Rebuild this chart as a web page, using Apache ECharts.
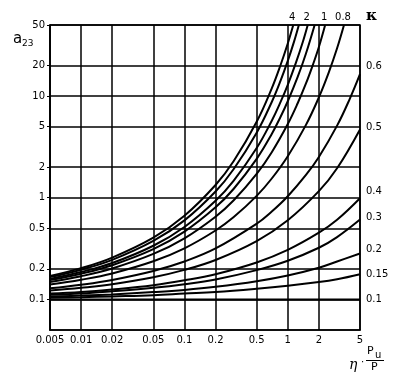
<!DOCTYPE html>
<html><head><meta charset="utf-8">
<script src="https://cdn.jsdelivr.net/npm/echarts@6/dist/echarts.min.js"></script>
<style>html,body{margin:0;padding:0;background:#fff}#c{width:402px;height:381px}</style>
</head><body><div id="c"></div>
<script>
// tick labels
const xTicks = [0.005, 0.01, 0.02, 0.05, 0.1, 0.2, 0.5, 1, 2, 5];
const yTicks = [0.1, 0.2, 0.5, 1, 2, 5, 10, 20, 50];

// curves: a23 versus eta*Pu/P for each kappa
const etaK010 = [0.005, 5];
const aK010   = [0.1, 0.1];
const etaK015 = [0.005, 0.01, 0.02, 0.05, 0.1, 0.2, 0.5, 1, 2, 3, 5];
const aK015   = [0.104, 0.105, 0.107, 0.110, 0.114, 0.118, 0.127, 0.136, 0.148, 0.158, 0.177];
const etaK020 = [0.005, 0.01, 0.02, 0.05, 0.1, 0.2, 0.5, 1, 2, 3, 5];
const aK020   = [0.107, 0.109, 0.112, 0.118, 0.124, 0.133, 0.151, 0.172, 0.205, 0.236, 0.283];
const etaK030 = [0.005, 0.01, 0.02, 0.05, 0.1, 0.2, 0.5, 1, 2, 3, 5];
const aK030   = [0.111, 0.114, 0.120, 0.130, 0.141, 0.157, 0.194, 0.240, 0.322, 0.41, 0.61];
const etaK040 = [0.005, 0.01, 0.02, 0.05, 0.1, 0.2, 0.5, 1, 2, 3, 5];
const aK040   = [0.114, 0.118, 0.125, 0.138, 0.154, 0.177, 0.231, 0.307, 0.453, 0.608, 0.99];
const etaK050 = [0.005, 0.01, 0.02, 0.05, 0.1, 0.2, 0.5, 1, 2, 3, 5];
const aK050   = [0.122, 0.130, 0.141, 0.165, 0.195, 0.244, 0.374, 0.60, 1.16, 1.95, 4.7];
const etaK060 = [0.005, 0.01, 0.02, 0.05, 0.1, 0.2, 0.5, 0.7, 1, 1.5, 2, 3, 4, 5];
const aK060   = [0.1285, 0.1395, 0.1555, 0.1905, 0.236, 0.317, 0.555, 0.731, 1.034, 1.674, 2.52, 5.12, 9.5, 16.4];
const etaK080 = [0.005, 0.01, 0.02, 0.05, 0.1, 0.2, 0.3, 0.5, 0.7, 1, 1.5, 2, 2.5, 3, 3.5];
const aK080   = [0.140, 0.156, 0.180, 0.237, 0.318, 0.476, 0.645, 1.043, 1.546, 2.56, 5.21, 9.71, 17.2, 29.5, 50];
const etaK100 = [0.005, 0.01, 0.02, 0.05, 0.1, 0.2, 0.3, 0.5, 0.7, 1, 1.25, 1.5, 1.75, 2, 2.3];
const aK100   = [0.1485, 0.169, 0.2015, 0.280, 0.399, 0.651, 0.945, 1.715, 2.805, 5.31, 8.55, 13.3, 20.3, 30.4, 50];
const etaK150 = [0.005, 0.01, 0.02, 0.05, 0.1, 0.2, 0.3, 0.5, 0.7, 0.85, 1, 1.25, 1.5, 1.82];
const aK150   = [0.155, 0.179, 0.217, 0.312, 0.464, 0.804, 1.226, 2.413, 4.24, 6.22, 8.89, 15.5, 26.2, 50];
const etaK200 = [0.005, 0.01, 0.02, 0.05, 0.1, 0.2, 0.3, 0.5, 0.7, 0.85, 1, 1.2, 1.4, 1.56];
const aK200   = [0.159, 0.186, 0.228, 0.337, 0.516, 0.934, 1.474, 3.081, 5.72, 8.71, 12.9, 21.3, 34.2, 50];
const etaK300 = [0.005, 0.01, 0.02, 0.05, 0.1, 0.2, 0.3, 0.5, 0.7, 0.85, 1, 1.15, 1.28];
const aK300   = [0.166, 0.196, 0.245, 0.376, 0.599, 1.152, 1.918, 4.36, 8.75, 14.1, 22.2, 34.3, 50];
const etaK400 = [0.005, 0.01, 0.02, 0.05, 0.1, 0.2, 0.3, 0.5, 0.7, 0.85, 1, 1.13];
const aK400   = [0.170, 0.203, 0.258, 0.405, 0.665, 1.334, 2.296, 5.59, 11.9, 20.1, 32.9, 50];

const FONT = 'DejaVu Sans';
function pairs(xs, ys) { return xs.map((x, i) => [x, ys[i]]); }
function rightLabel(txt, dy) {
  return {show: true, formatter: txt, distance: 6, align: 'left', verticalAlign: 'middle',
          offset: [0, dy], fontSize: 10, fontFamily: FONT, color: '#000'};
}
function topLabel(txt, dx) {
  return {show: true, formatter: txt, distance: 0, align: 'center', verticalAlign: 'bottom',
          offset: [dx, -3], fontSize: 10, fontFamily: FONT, color: '#000'};
}
const curves = [
  {n: '0.1', d: pairs(etaK010, aK010), l: rightLabel('0.1', 0)},
  {n: '0.15', d: pairs(etaK015, aK015), l: rightLabel('0.15', 0)},
  {n: '0.2', d: pairs(etaK020, aK020), l: rightLabel('0.2', -4)},
  {n: '0.3', d: pairs(etaK030, aK030), l: rightLabel('0.3', -2)},
  {n: '0.4', d: pairs(etaK040, aK040), l: rightLabel('0.4', -7)},
  {n: '0.5', d: pairs(etaK050, aK050), l: rightLabel('0.5', -2)},
  {n: '0.6', d: pairs(etaK060, aK060), l: rightLabel('0.6', -8)},
  {n: '0.8', d: pairs(etaK080, aK080), l: topLabel('0.8', -1)},
  {n: '1', d: pairs(etaK100, aK100), l: topLabel('1', -1)},
  {n: '1.5', d: pairs(etaK150, aK150), l: null},
  {n: '2', d: pairs(etaK200, aK200), l: topLabel('2', -1)},
  {n: '3', d: pairs(etaK300, aK300), l: null},
  {n: '4', d: pairs(etaK400, aK400), l: topLabel('4', -1)}
];

const chart = echarts.init(document.getElementById('c'), null, {renderer: 'canvas'});
const fmt = v => String(+(+v).toPrecision(3));
chart.setOption({
  animation: false,
  backgroundColor: '#fff',
  grid: {left: 50, right: 42, top: 25, bottom: 51, show: true, borderColor: '#000', borderWidth: 1.5},
  xAxis: {
    type: 'log', logBase: 10, min: 0.005, max: 5,
    axisLine: {show: true, lineStyle: {color: '#000', width: 1.5}},
    axisTick: {show: false, customValues: xTicks},
    axisLabel: {customValues: xTicks, formatter: fmt, color: '#000', fontSize: 10, fontFamily: FONT, margin: 5},
    splitLine: {show: true, lineStyle: {color: '#000', width: 1.5}},
    minorSplitLine: {show: false}
  },
  yAxis: {
    type: 'log', logBase: 10, min: 0.05, max: 50,
    axisLine: {show: true, lineStyle: {color: '#000', width: 1.5}},
    axisTick: {show: true, length: 3, customValues: yTicks, lineStyle: {color: '#000'}},
    axisLabel: {customValues: yTicks, formatter: fmt, color: '#000', fontSize: 10, fontFamily: FONT, margin: 5},
    splitLine: {show: true, lineStyle: {color: '#000', width: 1.5}}
  },
  series: curves.map(c => ({
    type: 'line', name: c.n, data: c.d, showSymbol: false, symbol: 'none', smooth: 0.4,
    lineStyle: {color: '#000', width: 2}, itemStyle: {color: '#000'}, clip: true,
    endLabel: c.l || {show: false}, silent: true
  })),
  graphic: [
    {type: 'text', x: 13, y: 32, style: {text: 'a', fontSize: 15, fontFamily: FONT, fill: '#000'}},
    {type: 'text', x: 22, y: 39, style: {text: '23', fontSize: 9, fontFamily: FONT, fill: '#000'}},
    {type: 'text', x: 366, y: 9, style: {text: 'κ', fontSize: 15, fontWeight: 'bold', fontFamily: 'DejaVu Serif', fill: '#000'}},
    {type: 'text', x: 349, y: 358, style: {text: 'η', fontSize: 14, fontStyle: 'italic', fontFamily: 'DejaVu Serif', fill: '#000'}},
    {type: 'text', x: 361, y: 357, style: {text: '·', fontSize: 10, fontFamily: FONT, fill: '#000'}},
    {type: 'text', x: 367, y: 346, style: {text: 'P', fontSize: 11, fontFamily: FONT, fill: '#000'}},
    {type: 'text', x: 375, y: 350, style: {text: 'u', fontSize: 10, fontFamily: FONT, fill: '#000'}},
    {type: 'line', shape: {x1: 366, y1: 360.5, x2: 384, y2: 360.5}, style: {stroke: '#000', lineWidth: 1}},
    {type: 'text', x: 371, y: 362, style: {text: 'P', fontSize: 11, fontFamily: FONT, fill: '#000'}}
  ]
});
</script></body></html>
